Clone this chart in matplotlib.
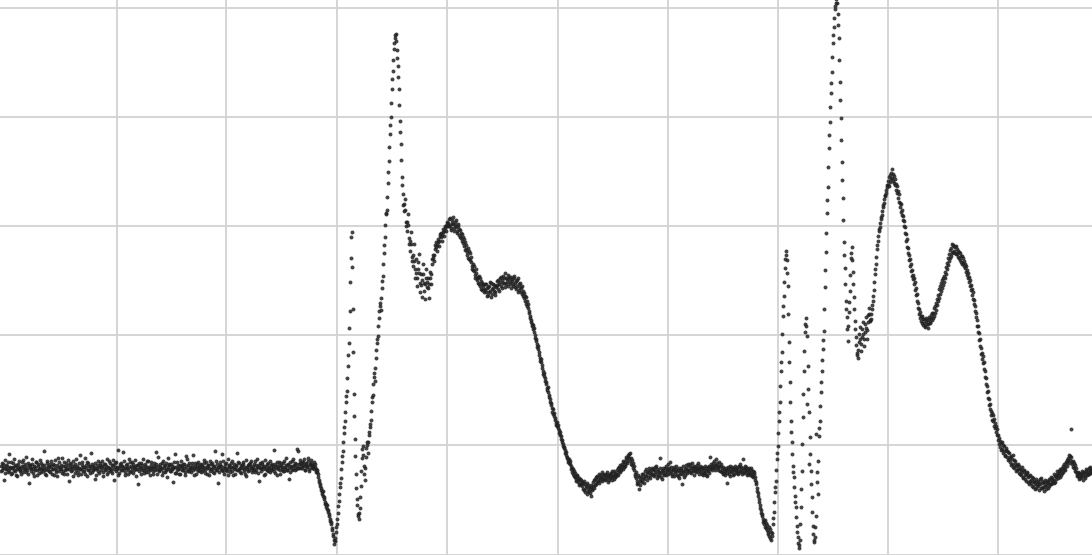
import numpy as np
import matplotlib
matplotlib.use("Agg")
import matplotlib.pyplot as plt

# Signal level (height above the bottom edge) for consecutive samples.
# Primary samples (one per step) ...
seg_a = [
    88, 84, 90, 86, 81, 89, 85, 92, 83, 87,
    80, 86, 91, 84, 88, 79, 85, 90, 87, 83,
    86, 92, 82, 88, 85, 97, 84, 80, 89, 86,
    83, 90, 85, 78, 87, 92, 84, 88, 81, 86,
    91, 85, 83, 89, 80, 86, 93, 84, 87, 82,
    88, 85, 90, 79, 86, 84, 89, 96, 83, 87,
    85, 81, 88, 92, 84, 86, 80, 89, 85, 91,
    83, 87, 78, 86, 90, 84, 88, 82, 86, 99,
    85, 89, 83, 87, 80, 86, 92, 84, 88, 81,
    86, 90, 84, 87, 75, 85, 89, 83, 87, 91,
    84, 88, 82, 86, 90, 85, 80, 87, 93, 84,
    86, 81, 89, 85, 91, 83, 87, 79, 86, 90,
    84, 88, 102, 85, 82, 89, 86, 80, 87, 92,
    83, 86, 90, 84, 88, 78, 85, 89, 83, 87,
    91, 84, 86, 81, 88, 85, 93, 82, 87, 84,
    89, 86, 80, 88, 84, 90, 85, 97, 83, 87,
    85, 91, 82, 86, 89, 84, 77, 87, 90, 85,
    83, 88, 86, 92, 81, 87, 84, 89, 85, 80,
    88, 84, 90, 86, 82, 98, 85, 89, 83, 87,
    86, 91, 84, 79, 88, 85, 90, 83, 87, 86,
    82, 88, 85, 91, 84, 87, 80, 89, 86, 83,
    90, 85, 88, 81, 86, 93, 84, 87, 82, 89,
    85, 100, 83, 87, 90, 84, 86, 79, 88, 85,
    91, 83, 87, 86, 80, 89, 84, 92, 85, 82,
    88, 86, 90, 83, 87, 78, 85, 89, 84, 91,
    86, 82, 88, 85, 93, 84, 87, 81, 89, 86,
    83, 90, 85, 87, 80, 88, 84, 91, 86, 82,
    89, 85, 88, 83, 90, 86, 79, 87, 92, 84,
    88, 85, 91, 83, 87, 89, 84, 90, 86, 82,
    88, 93, 85, 89, 84, 90, 87, 103, 86, 91,
    89, 86, 92, 88, 84, 90, 87, 93, 85, 89, 91, 86, 88, 92, 87, 85,
    84, 80, 74, 70, 66, 60, 63, 55, 52, 47, 49, 42, 38, 35, 30, 26, 20, 14,
]

seg_b = [
    13, 22, 30, 41, 53, 67, 76, 92, 103, 121,
    133, 152, 163, 188, 211, 243, 297, 323, 245, 160,
    115, 80, 55, 40, 35, 46, 68, 96, 108, 88,
    74, 97, 112, 101, 119, 127, 134, 152, 159, 181,
    173, 196, 211, 218, 236, 251, 244, 266, 279, 302,
    318, 341, 345, 372, 394, 421, 438, 466, 484, 506,
    517, 521, 505, 489, 466, 434, 411, 378, 361, 344,
    356, 333, 324, 341, 317, 304, 323, 298, 289, 311,
    277, 296, 268, 286, 301, 262, 281, 257, 291, 271,
    255, 286, 267, 276, 256, 283, 270, 291, 300, 294,
    306, 313, 304, 316, 309, 319, 322, 314, 326, 319,
    329, 324, 333, 329,
]

seg_c = [
    336, 330, 327, 335, 331, 324, 333, 328, 322, 329, 326, 318,
    322, 314, 318, 309, 313, 306, 300, 307, 296, 302, 293, 289,
    291, 284, 280, 286, 274, 278, 270, 276, 265, 271, 268, 262,
    270, 262, 266, 259, 268, 263, 271, 260, 266, 269, 262, 267,
    273, 265, 270, 276, 268, 274, 279, 271, 267, 277, 272, 280,
    275, 270, 278, 273, 268, 276, 271, 265, 274, 262, 270, 267,
    266, 260, 263, 256, 258, 250, 253, 246, 241, 236, 232, 228,
    229, 222, 219, 213, 210, 205, 199, 196, 192, 186, 183, 178,
    176, 170, 166, 162, 157, 155, 149, 142, 145, 138, 134, 131,
    132, 126, 124, 119, 118, 112, 110, 106, 104, 99, 97, 94,
    95, 90, 88, 82, 85, 78, 81, 75, 79, 72, 76, 70,
    74, 68, 71, 64, 70, 66, 60, 69, 63, 67, 58, 65,
    72, 66, 75, 70, 78, 73, 80, 74, 77, 82, 75, 79,
    74, 80, 77, 72, 79, 76, 81, 74, 78, 83, 77, 80,
    84, 79, 87, 82, 86, 90, 85, 92, 88, 95, 91, 97,
    100, 93, 96, 89, 91, 84, 80, 76, 70, 79, 65, 74,
    77, 72, 80, 75, 83, 78, 74, 82, 86, 79, 84, 80,
    85, 78, 82, 88, 76, 83, 79, 86, 81, 75, 84, 80,
    86, 79, 83, 90, 84, 81, 87, 80, 85, 78, 83, 88,
    79, 84, 76, 82, 86, 80, 83, 77, 85, 89, 81, 84,
    88, 82, 86, 91, 84, 79, 87, 83, 89, 85, 80, 86,
    82, 87, 79, 84, 81, 86, 78, 83, 88, 85, 90, 84,
    91, 86, 89, 95, 87, 84, 92, 88, 83, 86, 80, 85,
    79, 84, 81, 87, 83, 78, 86, 82, 85, 80, 88, 84,
    81, 87, 83, 90, 85, 80, 86, 82, 88, 84, 79, 85,
    83, 79, 86, 80, 77, 82, 74, 70, 63, 58, 52, 46,
    44, 38, 35, 30, 34, 26, 29, 22, 18, 25, 14, 21,
]

seg_d = [
    30, 42, 62, 73, 95, 108, 133, 152, 183, 202,
    238, 258, 287, 304, 295, 268, 212, 172, 133, 112,
    88, 77, 58, 47, 28, 17, 6, 14, 47, 83,
    137, 183, 222, 236, 218, 188, 142, 117, 83, 57,
    28, 12, 17, 38, 72, 93, 118, 133, 162, 183,
    205, 223, 267, 303, 342, 368, 407, 433, 462, 483,
    512, 528, 546, 552, 560, 541, 517, 473, 437, 393,
    357, 313, 287, 253, 237, 213, 242, 263, 297, 308,
    283, 257, 233, 217, 201, 196, 212, 227, 203, 217,
    232, 208, 222, 237, 215, 232, 246, 233, 235, 245,
    253, 264, 281, 291, 306, 314, 324, 328, 336, 340,
    348, 352, 359, 362, 368,
]

seg_e = [
    374, 369, 380, 376, 386, 374, 379, 370, 371, 362,
    364, 353, 352, 343, 345, 335, 334, 322, 321, 308,
    307, 295, 296, 284, 285, 275, 276, 264, 266, 253,
    251, 240, 242, 233, 238, 229, 235, 228, 236, 230,
    226, 237, 232, 239, 234, 241, 238, 248, 244, 255,
    253, 265, 260, 271, 266, 276, 272, 283, 281, 292,
    290, 301, 297, 307, 302, 310, 304, 308, 301, 306,
    298, 303, 295, 299, 291, 297, 289, 291, 283, 285,
    276, 278, 268, 269, 259, 262, 250, 248, 237, 234,
    222, 221, 208, 206, 195, 198, 185, 183, 170, 168,
    156, 155, 145, 143, 134, 139, 128, 131, 122, 125,
    119, 110, 113, 104, 112, 101, 108, 99, 106, 103,
    94, 101, 97, 89, 95, 99, 86, 93, 88, 84,
    90, 81, 85, 79, 87, 76, 83, 80, 73, 81,
    77, 70, 79, 74, 68, 76, 72, 65, 75, 69,
    73, 64, 70, 76, 66, 71, 63, 74, 69, 72,
    66, 75, 70, 77, 71, 74, 80, 72, 78, 83,
    76, 81, 85, 79, 86, 82, 90, 84, 92, 88,
    96, 91, 98, 125, 92, 87, 91, 83, 86, 78,
    82, 75, 80, 77, 83, 74, 81, 78, 85, 79,
    84, 80, 87, 82, 85,
]

# ... and the in-between samples (half a step later).
seg_a2 = [
    83, 91, 87, 74, 94, 85, 88, 82, 100, 86,
    92, 81, 87, 95, 83, 89, 78, 86, 93, 84,
    80, 88, 94, 85, 90, 82, 87, 91, 71, 89,
    86, 95, 81, 88, 84, 92, 79, 90, 85, 94,
    82, 89, 86, 103, 84, 79, 91, 88, 83, 90,
    93, 80, 85, 89, 94, 82, 78, 87, 92, 85,
    89, 96, 83, 80, 88, 91, 85, 94, 73, 87,
    90, 84, 93, 88, 81, 95, 86, 79, 91, 85,
    80, 92, 87, 83, 96, 89, 78, 91, 84, 88,
    101, 82, 88, 85, 91, 79, 86, 93, 81, 89,
    87, 93, 78, 90, 84, 88, 95, 82, 86, 91,
    83, 89, 94, 74, 87, 92, 85, 104, 81, 88,
    91, 84, 87, 93, 79, 86, 90, 84, 95, 82,
    88, 92, 81, 87, 94, 85, 89, 70, 91, 86,
    80, 89, 95, 84, 90, 82, 87, 93, 85, 79,
    92, 86, 83, 91, 87, 102, 80, 88, 84, 90,
    86, 79, 93, 88, 82, 91, 85, 96, 89, 83,
    90, 85, 72, 87, 100, 81, 92, 86, 80, 89,
    93, 87, 84, 90, 79, 88, 95, 83, 91, 85,
    82, 88, 99, 86, 91, 80, 87, 92, 84, 89,
    90, 83, 87, 94, 81, 92, 86, 89, 79, 93,
    85, 91, 82, 88, 103, 84, 90, 71, 87, 92,
    88, 84, 93, 80, 86, 91, 83, 95, 89, 82,
    87, 93, 79, 90, 85, 88, 101, 84, 91, 86,
    81, 89, 92, 85, 80, 94, 87, 83, 90, 88,
    93, 86, 84, 90, 82, 89, 95, 87, 73, 91,
    86, 92, 88, 79, 94, 85, 90, 83, 87, 93,
    84, 90, 86, 104, 81, 88, 92, 85, 89, 80,
    91, 87, 83, 93, 86, 96, 84, 89, 75, 92,
    87, 84, 95, 88, 91, 85, 105, 86, 90, 94,
    86, 92, 89, 95, 84, 91, 88, 96, 83, 90, 94, 87, 89, 85, 90, 82,
    82, 77, 72, 68, 64, 62, 58, 57, 50, 50, 45, 44, 40, 33, 32, 24, 18, 10,
]

seg_b2 = [
    16, 27, 35, 48, 60, 71, 85, 98, 112, 127,
    142, 158, 176, 199, 226, 272, 318, 288, 202, 138,
    98, 66, 49, 38, 41, 57, 83, 105, 99, 80,
    86, 106, 109, 112, 122, 130, 143, 157, 170, 177,
    186, 204, 215, 228, 243, 248, 256, 273, 291, 310,
    330, 342, 358, 383, 408, 430, 452, 476, 495, 512,
    520, 514, 497, 478, 450, 423, 395, 370, 350, 351,
    345, 329, 333, 330, 311, 314, 311, 294, 300, 294,
    286, 282, 277, 293, 282, 271, 269, 274, 281, 263,
    270, 276, 272, 266, 270, 277, 281, 296, 297, 300,
    310, 308, 310, 313, 314, 321, 318, 320, 323, 324,
    327, 329, 331, 332,
]

seg_c2 = [
    329, 337, 325, 332, 338, 327, 330, 335, 324, 331, 320, 325,
    317, 321, 312, 316, 305, 310, 303, 297, 304, 295, 298, 286,
    285, 289, 277, 282, 276, 271, 279, 268, 273, 264, 270, 265,
    264, 270, 258, 267, 262, 272, 257, 265, 270, 263, 259, 268,
    269, 274, 263, 272, 278, 266, 271, 276, 282, 270, 275, 268,
    278, 272, 266, 275, 270, 279, 267, 273, 268, 276, 264, 271,
    262, 268, 258, 261, 253, 257, 248, 250, 243, 238, 234, 230,
    225, 226, 216, 215, 207, 208, 202, 193, 195, 189, 180, 181,
    173, 172, 164, 167, 159, 152, 151, 146, 140, 141, 136, 129,
    128, 129, 121, 122, 115, 114, 108, 107, 101, 102, 96, 92,
    91, 93, 85, 86, 80, 83, 77, 73, 78, 74, 69, 75,
    70, 72, 65, 73, 62, 68, 71, 63, 66, 61, 69, 64,
    68, 74, 69, 77, 72, 76, 71, 79, 76, 73, 80, 76,
    79, 75, 82, 78, 74, 80, 77, 83, 79, 75, 81, 78,
    80, 86, 83, 89, 84, 88, 93, 87, 90, 97, 93, 99,
    96, 101, 90, 94, 86, 88, 78, 82, 73, 71, 77, 69,
    73, 80, 76, 71, 78, 85, 81, 77, 83, 76, 81, 86,
    79, 84, 87, 80, 85, 78, 82, 96, 77, 83, 86, 79,
    82, 88, 85, 80, 86, 92, 83, 78, 84, 87, 81, 85,
    83, 78, 86, 80, 84, 70, 88, 82, 79, 86, 83, 90,
    84, 90, 81, 87, 83, 88, 85, 82, 86, 91, 83, 88,
    85, 80, 86, 82, 88, 79, 84, 87, 81, 97, 86, 88,
    87, 93, 84, 89, 91, 86, 88, 83, 90, 82, 87, 81,
    83, 86, 71, 85, 80, 88, 83, 87, 79, 84, 86, 82,
    85, 80, 88, 82, 87, 83, 95, 81, 85, 87, 82, 80,
    86, 81, 84, 78, 83, 80, 77, 72, 66, 61, 55, 49,
    41, 40, 32, 33, 27, 31, 24, 20, 27, 16, 22, 18,
]

seg_d2 = [
    36, 52, 67, 84, 101, 121, 142, 168, 192, 220,
    248, 272, 296, 300, 282, 240, 192, 152, 122, 100,
    82, 67, 52, 37, 22, 11, 9, 30, 65, 110,
    160, 203, 230, 228, 150, 165, 90, 100, 70, 42,
    20, 14, 27, 120, 82, 60, 126, 148, 172, 194,
    214, 245, 285, 322, 355, 388, 420, 448, 472, 498,
    520, 537, 549, 556, 552, 530, 495, 455, 415, 375,
    335, 300, 270, 245, 225, 228, 252, 280, 302, 295,
    270, 245, 225, 209, 199, 204, 220, 215, 210, 225,
    220, 215, 230, 226, 224, 239, 240, 234, 240, 249,
    258, 272, 286, 298, 310, 319, 326, 332, 338, 344,
    350, 356, 360, 365, 370,
]

seg_e2 = [
    370, 378, 373, 382, 377, 381, 372, 376, 365, 369,
    357, 361, 348, 351, 340, 339, 329, 328, 314, 316,
    302, 300, 289, 291, 279, 280, 270, 272, 259, 260,
    246, 245, 236, 238, 231, 235, 231, 227, 233, 234,
    230, 235, 231, 236, 241, 236, 246, 241, 251, 249,
    259, 256, 268, 263, 274, 269, 279, 277, 288, 286,
    297, 294, 305, 299, 311, 303, 309, 302, 309, 301,
    304, 297, 302, 293, 299, 292, 294, 287, 289, 280,
    282, 272, 274, 264, 265, 255, 254, 243, 241, 228,
    228, 214, 215, 200, 201, 191, 192, 177, 176, 162,
    163, 149, 150, 139, 141, 133, 135, 126, 128, 119,
    114, 116, 107, 111, 105, 109, 103, 98, 104, 97,
    102, 95, 92, 98, 90, 87, 94, 90, 83, 89,
    85, 88, 80, 84, 82, 77, 84, 75, 79, 82,
    72, 78, 73, 71, 77, 67, 73, 70, 66, 72,
    68, 71, 75, 66, 73, 67, 72, 68, 65, 73,
    71, 68, 74, 70, 76, 73, 71, 78, 75, 80,
    79, 83, 77, 84, 81, 88, 85, 87, 91, 94,
    93, 99, 94, 97, 90, 93, 86, 89, 82, 80,
    78, 81, 76, 79, 81, 78, 82, 76, 83, 81,
    80, 86, 82, 84, 81,
]

segments = [
    (0, seg_a), (334, seg_b), (448, seg_c), (772, seg_d), (887, seg_e),
    (0.5, seg_a2), (334.5, seg_b2), (448.5, seg_c2), (772.5, seg_d2), (887.5, seg_e2),
]

x_grid = [116, 225, 336, 446, 557, 667, 777, 887, 997]
y_grid = [-1, 109, 219, 329, 438, 547]

fig = plt.figure(figsize=(10.92, 5.55), dpi=100)
ax = fig.add_axes([0, 0, 1, 1])
ax.set_xlim(-0.5, 1091.5)
ax.set_ylim(0, 555)

xs, ys = [], []
for start, vals in segments:
    xs.append(start + np.arange(len(vals)))
    ys.append(np.asarray(vals, dtype=float))
x = np.concatenate(xs)
y = np.concatenate(ys)

ax.scatter(x, y, s=8, marker='o', color='#222222', linewidths=0, alpha=0.85, zorder=3)

ax.set_xticks(x_grid)
ax.set_yticks(y_grid)
ax.grid(True, color='#d2d2d2', linewidth=1.3)
ax.tick_params(length=0, labelbottom=False, labelleft=False)
for s in ax.spines.values():
    s.set_visible(False)

fig.savefig('out.png', dpi=100, facecolor='white')
